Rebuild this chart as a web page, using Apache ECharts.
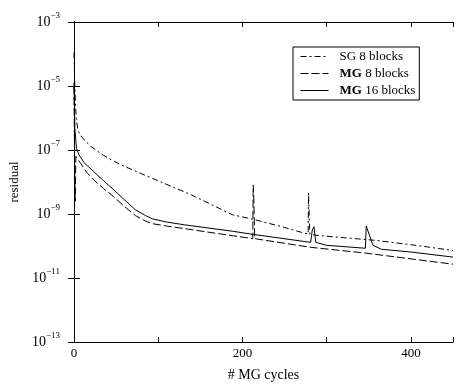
<!DOCTYPE html>
<html>
<head>
<meta charset="utf-8">
<script src="https://cdn.jsdelivr.net/npm/echarts@6/dist/echarts.min.js"></script>
<style>
html,body{margin:0;padding:0;background:#fff;}
#chart{width:456px;height:387px;}
</style>
</head>
<body>
<div id="chart"></div>
<script>
// ---- data ----
const sgCycles = [0, 1, 2, 3, 5, 8, 12, 20, 35, 55, 93, 139, 188, 213, 250, 274, 278, 278.5, 279.5, 280, 292, 358, 412, 450];
const sgResidual = [1.1e-4, 1e-5, 2.0e-6, 7.9e-7, 4.0e-7, 2.8e-7, 2.1e-7, 1.3e-7, 6.8e-8, 3.5e-8, 1.3e-8, 4.0e-9, 9.5e-10, 6.8e-10, 3.8e-10, 2.5e-10, 2.4e-10, 4.6e-9, 4.0e-9, 2.3e-10, 2.1e-10, 1.5e-10, 1.0e-10, 7.2e-11];

const mg8Cycles = [0, 0.8, 1.5, 2.2, 4, 8, 15, 23.6, 35, 47, 58, 73, 85, 93, 110, 131, 188, 212.3, 212.8, 213.6, 214.5, 281, 346, 450];
const mg8Residual = [1e-5, 3.2e-8, 2.5e-9, 6.3e-8, 7.1e-8, 3.8e-8, 2.0e-8, 1.15e-8, 6.3e-9, 3.5e-9, 1.9e-9, 8.9e-10, 6.0e-10, 5.0e-10, 4.2e-10, 3.5e-10, 2.1e-10, 1.7e-10, 8.1e-9, 2.5e-9, 1.7e-10, 9.1e-11, 6.0e-11, 2.7e-11];

const mg16Cycles = [0, 1, 3, 6, 12, 23.6, 35, 47, 58, 73, 85, 93, 110, 131, 188, 213, 281, 282, 283, 285, 287, 300, 346, 347, 349, 355, 365, 400, 450];
const mg16Residual = [1.26e-5, 5.0e-7, 1.12e-7, 7.1e-8, 4.0e-8, 2.1e-8, 1.1e-8, 5.8e-9, 3.1e-9, 1.35e-9, 8.9e-10, 7.1e-10, 5.6e-10, 4.6e-10, 2.9e-10, 2.3e-10, 1.3e-10, 1.3e-10, 3.2e-10, 4.0e-10, 1.3e-10, 1.05e-10, 8.5e-11, 4.2e-10, 4.7e-10, 1.05e-10, 7.9e-11, 6.5e-11, 4.5e-11];

const seriesNames = ['SG 8 blocks', 'MG 8 blocks', 'MG 16 blocks'];
const xTickLabels = [0, 200, 400];
const xAxisTitle = '# MG cycles';
const yAxisTitle = 'residual';

function pairs(xs, ys) { return xs.map((x, i) => [x, ys[i]]); }

const FONT = "'Liberation Serif', 'Times New Roman', serif";
const chart = echarts.init(document.getElementById('chart'), null, {renderer: 'canvas'});

const axisLine = {show: true, lineStyle: {color: '#000', width: 1}};
const yLabelRich = {
  b: {fontFamily: FONT, fontSize: 14, color: '#000', verticalAlign: 'bottom', lineHeight: 14},
  s: {fontFamily: FONT, fontSize: 9, color: '#000', verticalAlign: 'bottom', lineHeight: 9, padding: [0, 0, 9, 0]}
};

const option = {
  animation: false,
  backgroundColor: '#fff',
  grid: {left: 69, top: 22, width: 391, height: 324, containLabel: false},
  legend: {
    show: true,
    orient: 'vertical',
    left: 293, top: 47,
    backgroundColor: '#fff',
    borderColor: '#000', borderWidth: 1, borderRadius: 0,
    padding: [3, 4, 3, 7],
    itemWidth: 28, itemHeight: 12, itemGap: 4,
    itemStyle: {opacity: 0},
    lineStyle: {width: 1},
    data: seriesNames,
    textStyle: {fontFamily: FONT, fontSize: 13, color: '#000', padding: [0, 0, 0, 6],
      rich: {b: {fontFamily: FONT, fontSize: 13, fontWeight: 'bold', color: '#000'}}},
    formatter: function (name) {
      return name.indexOf('MG') === 0 ? '{b|MG}' + name.slice(2) : name;
    }
  },
  xAxis: [
    {
      type: 'value', position: 'bottom', min: 0, max: 450, interval: 100,
      name: xAxisTitle, nameLocation: 'middle', nameGap: 26,
      nameTextStyle: {fontFamily: FONT, fontSize: 14, color: '#000'},
      axisLine: axisLine,
      axisTick: {show: true, inside: true, length: 5, lineStyle: {color: '#000'}},
      axisLabel: {show: true, margin: 5, fontFamily: FONT, fontSize: 13, color: '#000',
        formatter: v => (xTickLabels.indexOf(v) >= 0 ? String(v) : '')},
      splitLine: {show: false}
    },
    {
      type: 'value', position: 'top', min: 0, max: 450, interval: 100,
      axisLine: axisLine,
      axisTick: {show: true, inside: true, length: 5, lineStyle: {color: '#000'}},
      axisLabel: {show: false},
      splitLine: {show: false}
    }
  ],
  yAxis: [
    {
      type: 'log', logBase: 10, position: 'left', min: 1e-13, max: 1e-3, interval: 2,
      name: yAxisTitle, nameLocation: 'middle', nameGap: 45,
      nameTextStyle: {fontFamily: FONT, fontSize: 13, color: '#000'},
      axisLine: axisLine,
      axisTick: {show: true, inside: true, length: 6, lineStyle: {color: '#000'}},
      axisLabel: {show: true, margin: 14,
        formatter: function (v) {
          const e = Math.round(Math.log10(v));
          return '{b|10}{s|\u2212' + Math.abs(e) + '}';
        },
        rich: yLabelRich},
      splitLine: {show: false},
      minorTick: {show: false}
    },
    {
      type: 'log', logBase: 10, position: 'right', min: 1e-13, max: 1e-3, interval: 2,
      axisLine: axisLine,
      axisTick: {show: true, inside: true, length: 6, lineStyle: {color: '#000'}},
      axisLabel: {show: false},
      splitLine: {show: false}
    }
  ],
  series: [
    {
      name: seriesNames[0], type: 'line', xAxisIndex: 0, yAxisIndex: 0,
      data: pairs(sgCycles, sgResidual), symbol: 'none', showSymbol: false, clip: true,
      lineStyle: {color: '#000', width: 1, type: [6, 3, 2, 3]},
      itemStyle: {color: '#000'}
    },
    {
      name: seriesNames[1], type: 'line', xAxisIndex: 0, yAxisIndex: 0,
      data: pairs(mg8Cycles, mg8Residual), symbol: 'none', showSymbol: false, clip: true,
      lineStyle: {color: '#000', width: 1, type: [8, 3]},
      itemStyle: {color: '#000'}
    },
    {
      name: seriesNames[2], type: 'line', xAxisIndex: 0, yAxisIndex: 0,
      data: pairs(mg16Cycles, mg16Residual), symbol: 'none', showSymbol: false, clip: true,
      lineStyle: {color: '#000', width: 1, type: 'solid'},
      itemStyle: {color: '#000'}
    }
  ]
};
chart.setOption(option);
</script>
</body>
</html>
